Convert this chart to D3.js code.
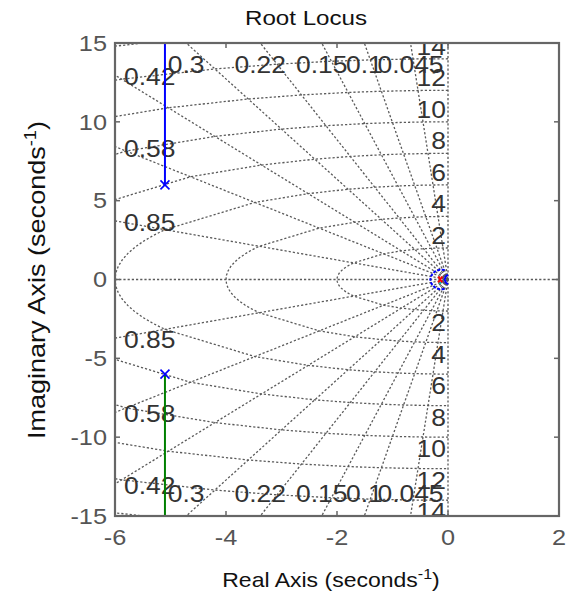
<!DOCTYPE html>
<html><head><meta charset="utf-8">
<script src="https://cdn.jsdelivr.net/npm/d3@7"></script>
<style>html,body{margin:0;padding:0;background:#fff;}svg{display:block;}</style>
</head><body>
<svg id="chart" width="573" height="594"></svg>
<script>
// ---- data ----
const xTicks = [-6, -4, -2, 0, 2];
const yTicks = [-15, -10, -5, 0, 5, 10, 15];
const dampingValues = [0.045, 0.1, 0.15, 0.22, 0.3, 0.42, 0.58, 0.85];
const dampingLabels = ["0.045", "0.1", "0.15", "0.22", "0.3", "0.42", "0.58", "0.85"];
const natFreqValues = [2, 4, 6, 8, 10, 12, 14, 16];
const natFreqLabels = ["2", "4", "6", "8", "10", "12", "14", "16"];
const poles = [[-5.1, 6], [-5.1, -6]];
const branchUpper = [[-5.1, 6], [-5.1, 20]];
const branchLower = [[-5.1, -6], [-5.1, -20]];
const branchSmallOuter = [[-0.06, 0.6], [-0.15, 0.62], [-0.24, 0.5], [-0.3, 0.25], [-0.32, 0], [-0.3, -0.25], [-0.24, -0.5], [-0.15, -0.62], [-0.06, -0.6]];
const branchSmallInner = [[0, 0.3], [-0.04, 0.2], [-0.06, 0], [-0.04, -0.2], [0, -0.3]];
const branchSmallCyan = [[-0.1, -0.15], [-0.16, -0.25]];
const smallPole = [[-0.14, 0]];

// ---- layout ----
const L = 115, R = 559, T = 43, B = 516;
const SX = 1.15;
const x = d3.scaleLinear().domain([-6, 2]).range([L, R]);
const y = d3.scaleLinear().domain([-15, 15]).range([B, T]);
const svg = d3.select("#chart");
const font = "'Liberation Sans', Arial, sans-serif";

function txt(g, px, py, s, size, anchor, color) {
  return g.append("text")
    .attr("transform", `translate(${px},${py}) scale(${SX},1)`)
    .attr("text-anchor", anchor)
    .attr("dy", "0.35em")
    .attr("font-family", font)
    .attr("font-size", size)
    .attr("fill", color)
    .text(s);
}

svg.append("defs").append("clipPath").attr("id", "clip")
  .append("rect").attr("x", L).attr("y", T).attr("width", R - L).attr("height", B - T);

const plot = svg.append("g").attr("clip-path", "url(#clip)");
const gridColor = "#5a5a5a";
const dash = "2.2,2";
const gw = 1.3;
const line = d3.line().x(d => x(d[0])).y(d => y(d[1]));

// zero lines
plot.append("line").attr("x1", x(-6)).attr("x2", x(2)).attr("y1", y(0)).attr("y2", y(0))
  .attr("stroke", gridColor).attr("stroke-width", gw).attr("stroke-dasharray", dash);
plot.append("line").attr("x1", x(0)).attr("x2", x(0)).attr("y1", y(-15)).attr("y2", y(15))
  .attr("stroke", gridColor).attr("stroke-width", gw).attr("stroke-dasharray", dash);

// damping rays
dampingValues.forEach(z => {
  const s = Math.sqrt(1 - z * z);
  [1, -1].forEach(sg => {
    plot.append("path").attr("d", line([[0, 0], [-z * 40, sg * s * 40]]))
      .attr("fill", "none").attr("stroke", gridColor).attr("stroke-width", gw).attr("stroke-dasharray", dash);
  });
});

// natural frequency arcs: through the damping points, rounded near the real axis
const aLast = Math.acos(dampingValues[dampingValues.length - 1]);
const extraZ = d3.range(1, 8).map(k => Math.cos(aLast * (1 - k / 8)));
const zAll = [0, ...dampingValues, ...extraZ, 1];
natFreqValues.forEach(w => {
  const up = zAll.map(z => [-z * w, Math.sqrt(Math.max(0, 1 - z * z)) * w]);
  const dn = zAll.slice().reverse().map(z => [-z * w, -Math.sqrt(Math.max(0, 1 - z * z)) * w]);
  plot.append("path").attr("d", line(up.concat(dn.slice(1))))
    .attr("fill", "none").attr("stroke", gridColor).attr("stroke-width", gw).attr("stroke-dasharray", dash);
});

// labels
const labG = plot.append("g");
const labColor = "#333";
const labSize = 23;
natFreqValues.forEach((w, i) => {
  txt(labG, x(0) - 2, y(w) - 12, natFreqLabels[i], labSize, "end", labColor);
  txt(labG, x(0) - 2, y(-w) + 12, natFreqLabels[i], labSize, "end", labColor);
});
dampingValues.forEach((z, i) => {
  const s = Math.sqrt(1 - z * z);
  const xt = -z / s * 15;
  if (xt > -6) {
    txt(labG, x(xt), y(15) + 22, dampingLabels[i], labSize, "middle", labColor);
    txt(labG, x(xt), y(-15) - 22, dampingLabels[i], labSize, "middle", labColor);
  } else {
    const yl = s / z * 6;
    txt(labG, x(-6) + 9, y(yl) + 2, dampingLabels[i], labSize, "start", labColor);
    txt(labG, x(-6) + 9, y(-yl) + 2, dampingLabels[i], labSize, "start", labColor);
  }
});

// locus branches
plot.append("path").attr("d", line(branchUpper)).attr("fill", "none").attr("stroke", "#0000ff").attr("stroke-width", 2);
plot.append("path").attr("d", line(branchLower)).attr("fill", "none").attr("stroke", "#008000").attr("stroke-width", 2);
plot.append("path").attr("d", line(branchSmallOuter)).attr("fill", "none").attr("stroke", "#0000ff").attr("stroke-width", 2).attr("stroke-dasharray", "3,1.5");
plot.append("path").attr("d", line(branchSmallInner)).attr("fill", "none").attr("stroke", "#0000ff").attr("stroke-width", 2);
plot.append("path").attr("d", line(branchSmallCyan)).attr("fill", "none").attr("stroke", "#00bfbf").attr("stroke-width", 2);
smallPole.forEach(p => {
  plot.append("path").attr("d", `M${x(p[0]) - 2},${y(p[1]) - 3}L${x(p[0]) + 2},${y(p[1]) + 3}M${x(p[0]) + 2},${y(p[1]) - 3}L${x(p[0]) - 2},${y(p[1]) + 3}`)
    .attr("stroke", "#ff0000").attr("stroke-width", 2);
});
poles.forEach(p => {
  const cx = x(p[0]), cy = y(p[1]), r = 4.5;
  plot.append("path").attr("d", `M${cx - r},${cy - r}L${cx + r},${cy + r}M${cx + r},${cy - r}L${cx - r},${cy + r}`)
    .attr("stroke", "#0000ff").attr("stroke-width", 1.6);
});

// axes box and ticks
const axG = svg.append("g");
const axColor = "#666";
axG.append("rect").attr("x", L).attr("y", T).attr("width", R - L).attr("height", B - T)
  .attr("fill", "none").attr("stroke", axColor).attr("stroke-width", 2.2);
xTicks.forEach(t => {
  axG.append("line").attr("x1", x(t)).attr("x2", x(t)).attr("y1", B).attr("y2", B - 5).attr("stroke", axColor).attr("stroke-width", 1.5);
  axG.append("line").attr("x1", x(t)).attr("x2", x(t)).attr("y1", T).attr("y2", T + 5).attr("stroke", axColor).attr("stroke-width", 1.5);
  txt(axG, x(t), B + 21, t < 0 ? "-" + Math.abs(t) : String(t), 22, "middle", "#555");
});
yTicks.forEach(t => {
  axG.append("line").attr("x1", L).attr("x2", L + 5).attr("y1", y(t)).attr("y2", y(t)).attr("stroke", axColor).attr("stroke-width", 1.5);
  axG.append("line").attr("x1", R).attr("x2", R - 5).attr("y1", y(t)).attr("y2", y(t)).attr("stroke", axColor).attr("stroke-width", 1.5);
  txt(axG, L - 8, y(t), t < 0 ? "-" + Math.abs(t) : String(t), 22, "end", "#555");
});

// title and axis labels
txt(svg, 306, 18, "Root Locus", 21, "middle", "#111");
const xl = svg.append("text")
  .attr("transform", `translate(331,580) scale(${SX},1)`)
  .attr("text-anchor", "middle").attr("dy", "0.35em")
  .attr("font-family", font).attr("font-size", 20).attr("fill", "#111");
xl.append("tspan").text("Real Axis (seconds");
xl.append("tspan").attr("font-size", 14).attr("dy", "-0.6em").text("-1");
xl.append("tspan").attr("dy", "0.42em").text(")");
const yl = svg.append("text")
  .attr("transform", `translate(37,280) rotate(-90) scale(${SX},1)`)
  .attr("text-anchor", "middle").attr("dy", "0.35em")
  .attr("font-family", font).attr("font-size", 23.5).attr("fill", "#111");
yl.append("tspan").text("Imaginary Axis (seconds");
yl.append("tspan").attr("font-size", 16).attr("dy", "-0.6em").text("-1");
yl.append("tspan").attr("dy", "0.42em").text(")");
</script>
</body></html>
